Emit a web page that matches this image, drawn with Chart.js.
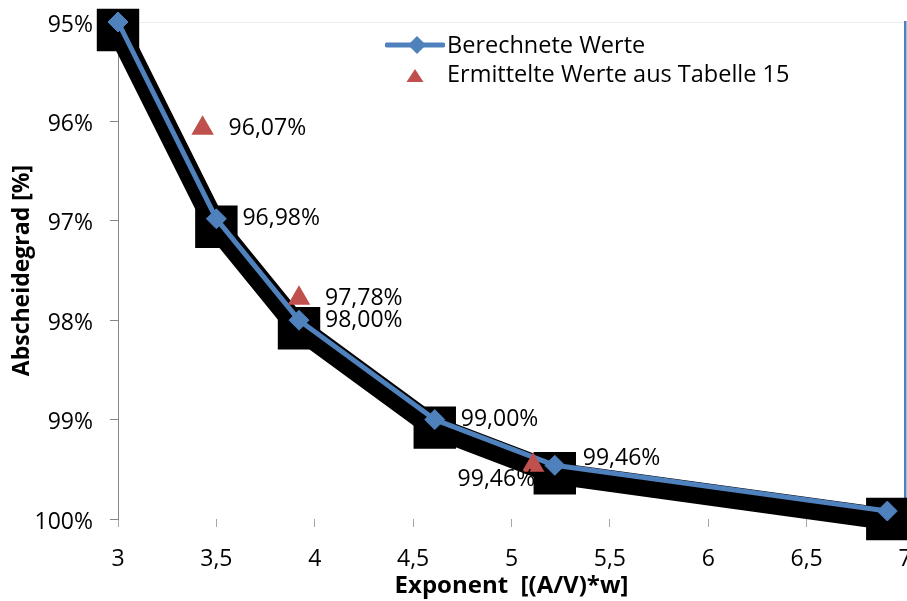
<!DOCTYPE html>
<html>
<head>
<meta charset="utf-8">
<title>Abscheidegrad</title>
<script src="https://cdn.jsdelivr.net/npm/chart.js@4.4.1/dist/chart.umd.min.js"></script>
<style>
  body { margin: 0; overflow: hidden; background: #fff; font-family: "Open Sans", sans-serif; }
  #wrap { position: absolute; left: 0; top: 0; width: 930px; height: 601px; }
  .leg { position: absolute; left: 447px; font-size: 23.5px; line-height: 28px; color: #000; white-space: nowrap; }
  .legicon { position: absolute; }
</style>
</head>
<body>
<div id="wrap"><canvas id="chart" width="930" height="601"></canvas></div>

<!-- legend, drawn as html on top of the plot -->
<div class="legicon" style="left:385px;top:34px">
  <svg width="60" height="22">
    <line x1="2" y1="11" x2="58" y2="11" stroke="#4f81bd" stroke-width="5" stroke-linecap="round"/>
    <polygon points="32,2 41,11 32,20 23,11" fill="#4f81bd"/>
  </svg>
</div>
<div class="leg" style="top:30px">Berechnete Werte</div>
<div class="legicon" style="left:405px;top:66px">
  <svg width="20" height="18">
    <polygon points="10,3 18.5,16 1.5,16" fill="#c0504d"/>
  </svg>
</div>
<div class="leg" style="top:59px">Ermittelte Werte aus Tabelle 15</div>

<script>
// values
var expBerechnet = [3.0, 3.5, 3.92, 4.61, 5.22, 6.91];
var gradBerechnet = [95.0, 96.98, 98.0, 99.0, 99.46, 99.92];
var expTabelle = [3.43, 3.92, 5.11];
var gradTabelle = [96.07, 97.78, 99.46];

var xTicks = [3, 3.5, 4, 4.5, 5, 5.5, 6, 6.5, 7];
var yTicks = [95, 96, 97, 98, 99, 100];

// where the value labels sit ('' = no label)
var labelBerechnet = ['', 'r', 'r', 'r', 'ru', ''];
var labelTabelle = ['r', 'r', 'ld'];

function pts(xs, ys) {
    var out = [];
    for (var i = 0; i < xs.length; i++) {
        out.push({x: xs[i], y: ys[i]});
    }
    return out;
}

function komma(v) {
    return String(v).replace('.', ',');
}

function fmtPct(v) {
    return v.toFixed(2).replace('.', ',') + '%';
}

// black "shadow" series is pushed down a few pixels like in the excel chart
var schatten = {
    id: 'schatten',
    beforeDatasetDraw: function(chart, args) {
        if (chart.data.datasets[args.index].shadow) {
            chart.ctx.save();
            chart.ctx.translate(0, 8);
        }
    },
    afterDatasetDraw: function(chart, args) {
        if (chart.data.datasets[args.index].shadow) {
            chart.ctx.restore();
        }
    }
};

var wertLabels = {
    id: 'wertLabels',
    afterDatasetsDraw: function(chart) {
        var ctx = chart.ctx;
        ctx.save();
        ctx.font = '23px "Open Sans"';
        ctx.fillStyle = '#000';
        ctx.textBaseline = 'middle';
        chart.data.datasets.forEach(function(ds, i) {
            if (!ds.wertLabel) return;
            var meta = chart.getDatasetMeta(i);
            meta.data.forEach(function(pt, j) {
                var side = ds.wertLabel[j];
                if (!side) return;
                var txt = fmtPct(ds.data[j].y);
                if (side === 'ld') {
                    ctx.textAlign = 'right';
                    ctx.fillText(txt, pt.x + 2, pt.y + 14);
                } else if (side === 'ru') {
                    ctx.textAlign = 'left';
                    ctx.fillText(txt, pt.x + 28, pt.y - 7);
                } else {
                    ctx.textAlign = 'left';
                    ctx.fillText(txt, pt.x + 26, pt.y);
                }
            });
        });
        ctx.restore();
    }
};

// fixed axis boxes, no extra label overhang padding
function fixBox(w, h) {
    return function(s) {
        if (w) s.width = w;
        if (h) s.height = h;
        s.paddingTop = 0;
        s.paddingBottom = 0;
        s.paddingLeft = 0;
        s.paddingRight = 0;
    };
}

var tickFont = {family: '"Open Sans"', size: 23};

new Chart(document.getElementById('chart').getContext('2d'), {
    type: 'scatter',
    data: {
        datasets: [{
            label: 'Berechnete Werte',
            data: pts(expBerechnet, gradBerechnet),
            showLine: true,
            borderColor: '#4f81bd',
            backgroundColor: '#4f81bd',
            borderWidth: 5,
            borderJoinStyle: 'round',
            pointStyle: 'rectRot',
            pointRadius: 10,
            pointBorderWidth: 1,
            clip: false,
            order: 2,
            wertLabel: labelBerechnet
        }, {
            label: 'Ermittelte Werte aus Tabelle 15',
            data: pts(expTabelle, gradTabelle),
            showLine: false,
            borderColor: '#c0504d',
            backgroundColor: '#c0504d',
            pointStyle: 'triangle',
            pointRadius: 13,
            pointBorderWidth: 0,
            clip: false,
            order: 1,
            wertLabel: labelTabelle
        }, {
            label: 'schatten',
            data: pts(expBerechnet, gradBerechnet),
            showLine: true,
            borderColor: '#000',
            backgroundColor: '#000',
            borderWidth: 22,
            pointStyle: 'rect',
            pointRadius: 30,
            pointBorderWidth: 0,
            clip: false,
            order: 3,
            shadow: true
        }]
    },
    options: {
        responsive: false,
        animation: false,
        events: [],
        // the big shadow squares would otherwise push the plot area in
        layout: {autoPadding: false, padding: {top: 22, left: 0, right: 0, bottom: 0}},
        plugins: {
            legend: {display: false},
            tooltip: {enabled: false}
        },
        scales: {
            x: {
                type: 'linear',
                min: 3,
                max: 7,
                afterBuildTicks: function(s) {
                    s.ticks = xTicks.map(function(v) { return {value: v}; });
                },
                afterFit: fixBox(0, 82),
                border: {display: false},
                grid: {drawOnChartArea: false, tickLength: 8, tickColor: '#a6a6a6'},
                ticks: {
                    font: tickFont,
                    color: '#000',
                    padding: 19,
                    maxRotation: 0,
                    callback: function(v) { return komma(v); }
                },
                title: {
                    display: true,
                    text: 'Exponent  [(A/V)*w]',
                    font: {family: '"Open Sans"', size: 24, weight: 'bold'},
                    color: '#000',
                    padding: {top: 0, bottom: 0}
                }
            },
            y: {
                type: 'linear',
                reverse: true,
                min: 95,
                max: 100,
                afterBuildTicks: function(s) {
                    s.ticks = yTicks.map(function(v) { return {value: v}; });
                },
                afterFit: fixBox(118, 0),
                border: {display: true, color: '#868686', width: 1},
                grid: {
                    color: function(c) {
                        return c.tick && c.tick.value === 95 ? '#ececec' : 'rgba(0,0,0,0)';
                    },
                    tickColor: '#868686',
                    tickLength: 8
                },
                ticks: {
                    font: tickFont,
                    color: '#000',
                    padding: 17,
                    labelOffset: 3,
                    callback: function(v) { return v + '%'; }
                },
                title: {
                    display: true,
                    text: 'Abscheidegrad [%]',
                    font: {family: '"Open Sans"', size: 23, weight: 'bold'},
                    color: '#000',
                    padding: {top: 9, bottom: 0}
                }
            },
            y2: {
                type: 'linear',
                position: 'right',
                reverse: true,
                min: 95,
                max: 100,
                afterFit: fixBox(25, 0),
                border: {display: true, color: '#4f81bd', width: 2.5},
                grid: {drawOnChartArea: false, drawTicks: false},
                ticks: {display: false}
            }
        }
    },
    plugins: [schatten, wertLabels]
});
</script>
</body>
</html>
